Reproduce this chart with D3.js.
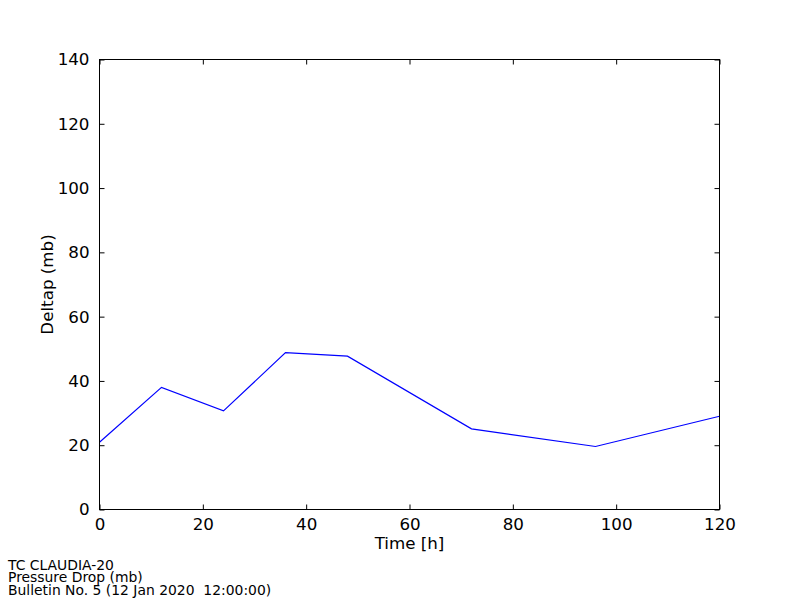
<!DOCTYPE html>
<html><head><meta charset="utf-8">
<script src="https://cdn.jsdelivr.net/npm/d3@7"></script>
<style>body{margin:0;background:#fff}svg{display:block}text{font-family:"DejaVu Sans",sans-serif;white-space:pre}</style>
</head><body>
<svg id="c" width="800" height="600"></svg>
<script>
const hours = [0, 12, 24, 36, 48, 72, 96, 120];
const deltap = [20.9, 38.0, 30.7, 48.8, 47.7, 25.1, 19.6, 29.0];
const xTicks = [0, 20, 40, 60, 80, 100, 120];
const yTicks = [0, 20, 40, 60, 80, 100, 120, 140];
const footer = ["TC CLAUDIA-20", "Pressure Drop (mb)", "Bulletin No. 5 (12 Jan 2020  12:00:00)"];

const svg = d3.select("#c");
const L = 99.5, R = 719.5, T = 59.5, B = 509.5;
const x = d3.scaleLinear().domain([0, 120]).range([L, R]);
const y = d3.scaleLinear().domain([0, 140]).range([B, T]);

// line
svg.append("path").datum(hours.map((h, i) => [h, deltap[i]]))
  .attr("fill", "none").attr("stroke", "#0000ff").attr("stroke-width", 1.2)
  .attr("d", d3.line().x(d => x(d[0])).y(d => y(d[1])));

const tl = 5;
const bx = svg.append("g").attr("transform", `translate(0,${B})`)
  .call(d3.axisBottom(x).tickValues(xTicks).tickSizeInner(-tl).tickSizeOuter(0).tickPadding(9));
const tx = svg.append("g").attr("transform", `translate(0,${T})`)
  .call(d3.axisTop(x).tickValues(xTicks).tickSizeInner(-tl).tickSizeOuter(0).tickFormat(""));
const ly = svg.append("g").attr("transform", `translate(${L},0)`)
  .call(d3.axisLeft(y).tickValues(yTicks).tickSizeInner(-tl).tickSizeOuter(0).tickPadding(10));
const ry = svg.append("g").attr("transform", `translate(${R},0)`)
  .call(d3.axisRight(y).tickValues(yTicks).tickSizeInner(-tl).tickSizeOuter(0).tickFormat(""));
[bx, tx, ly, ry].forEach(g => {
  g.select(".domain").remove();
  g.selectAll("line").attr("stroke", "#000").attr("stroke-width", 1);
  g.selectAll("text").attr("font-size", 16.7).attr("fill", "#000")
    .attr("font-family", "DejaVu Sans");
});

svg.append("rect").attr("x", L).attr("y", T).attr("width", R - L).attr("height", B - T)
  .attr("fill", "none").attr("stroke", "#000").attr("stroke-width", 1);

svg.append("text").attr("x", (L + R) / 2).attr("y", 549).attr("text-anchor", "middle")
  .attr("font-size", 16.7).text("Time [h]");
svg.append("text").attr("transform", `translate(53,${(T + B) / 2}) rotate(-90)`)
  .attr("text-anchor", "middle").attr("font-size", 16.7).text("Deltap (mb)");

footer.forEach((t, i) => {
  svg.append("text").attr("x", 8).attr("y", 570 + i * 12.3).attr("font-size", 13.9)
    .attr("xml:space", "preserve").text(t);
});
</script>
</body></html>
